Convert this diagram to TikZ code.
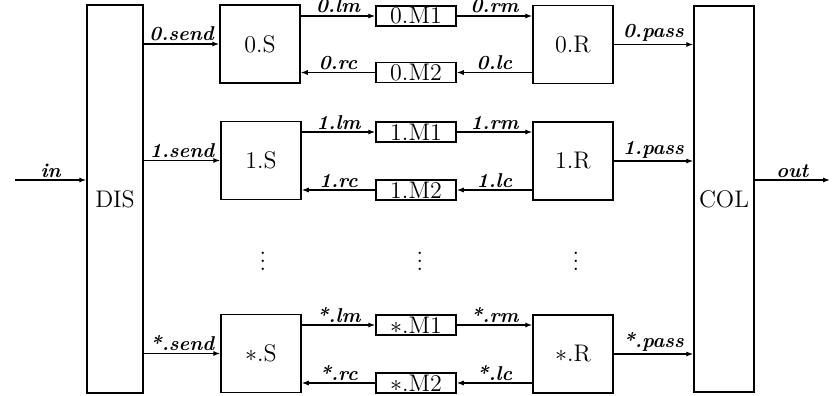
\documentclass[tikz,border=0pt]{standalone}
\usetikzlibrary{arrows.meta}
\begin{document}
\begin{tikzpicture}[x=1pt, y=-1pt, line width=0.75pt,
    every node/.style={font=\large},
    blk/.style={draw, inner sep=0pt},
    proc/.style={blk, minimum width=40pt, minimum height=39pt},
    chan/.style={blk, minimum width=40pt, minimum height=10pt},
    lbl/.style={font=\bfseries\itshape, inner sep=1pt},
    >={Latex[length=3.5pt, width=2.6pt]}]
    \useasboundingbox (0,0) rectangle (418.5,198);
    \node[blk, minimum width=28pt, minimum height=194pt] (dis) at (57.5,99.5) {DIS};
    \node[blk, minimum width=30pt, minimum height=193pt] (col) at (362,99.5) {COL};
    \node[proc] (s0) at (130,22) {0.S};
    \node[proc] (s1) at (130.5,80.25) {1.S};
    \node[proc] (sx) at (130.5,176.75) {$\ast$.S};
    \node[proc] (r0) at (286.5,22.25) {0.R};
    \node[proc] (r1) at (286.5,80.5) {1.R};
    \node[proc] (rx) at (286.5,177) {$\ast$.R};
    \node[chan] (m01) at (208,8) {0.M1};
    \node[chan] (m02) at (208,36.25) {0.M2};
    \node[chan] (m11) at (208,66) {1.M1};
    \node[chan] (m12) at (208,95) {1.M2};
    \node[chan] (mx1) at (208,162.5) {$\ast$.M1};
    \node[chan] (mx2) at (208,191.5) {$\ast$.M2};
    \node[inner sep=0pt] (d1) at (131.5,127.5) {$\vdots$};
    \node[inner sep=0pt] (d2) at (210,127.5) {$\vdots$};
    \node[inner sep=0pt] (d3) at (288,127.5) {$\vdots$};
    \coordinate (inp) at (7.5,90);
    \coordinate (outp) at (415,90);
    \draw[->] (inp) -- node[lbl, above] {in} (dis.west |- inp);
    \draw[->] (col.east |- outp) -- node[lbl, above] {out} (outp);
    \draw[->] (dis.east |- s0) -- node[lbl, above] {0.send} (s0.west);
    \draw[->] (dis.east |- s1) -- node[lbl, above] {1.send} (s1.west);
    \draw[->] (dis.east |- sx) -- node[lbl, above] {*.send} (sx.west);
    \draw[->] (s0.east |- m01) -- node[lbl, above] {0.lm} (m01.west);
    \draw[->] (s1.east |- m11) -- node[lbl, above] {1.lm} (m11.west);
    \draw[->] (sx.east |- mx1) -- node[lbl, above] {*.lm} (mx1.west);
    \draw[->] (m01.east) -- node[lbl, above] {0.rm} (r0.west |- m01);
    \draw[->] (m11.east) -- node[lbl, above] {1.rm} (r1.west |- m11);
    \draw[->] (mx1.east) -- node[lbl, above] {*.rm} (rx.west |- mx1);
    \draw[->] (r0.west |- m02) -- node[lbl, above] {0.lc} (m02.east);
    \draw[->] (r1.west |- m12) -- node[lbl, above] {1.lc} (m12.east);
    \draw[->] (rx.west |- mx2) -- node[lbl, above] {*.lc} (mx2.east);
    \draw[->] (m02.west) -- node[lbl, above] {0.rc} (s0.east |- m02);
    \draw[->] (m12.west) -- node[lbl, above] {1.rc} (s1.east |- m12);
    \draw[->] (mx2.west) -- node[lbl, above] {*.rc} (sx.east |- mx2);
    \draw[->] (r0.east) -- node[lbl, above] {0.pass} (col.west |- r0);
    \draw[->] (r1.east) -- node[lbl, above] {1.pass} (col.west |- r1);
    \draw[->] (rx.east) -- node[lbl, above] {*.pass} (col.west |- rx);
\end{tikzpicture}
\end{document}
